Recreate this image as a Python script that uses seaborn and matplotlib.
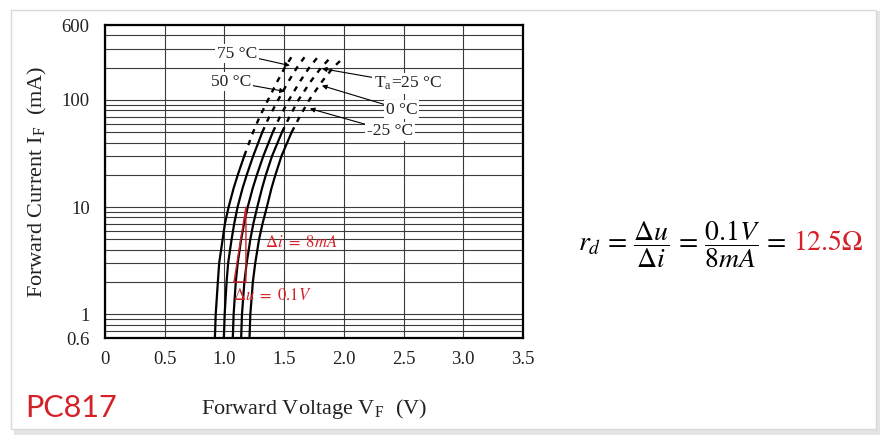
import numpy as np
import pandas as pd
import matplotlib
matplotlib.use("Agg")
import matplotlib.pyplot as plt
from matplotlib.patches import Rectangle
from matplotlib.ticker import LogLocator, NullFormatter
import seaborn as sns

# forward current (mA) at which the curve voltages were read
current_ma = [0.6, 1, 2, 3, 5, 7, 10, 15, 20, 30, 50, 70, 100, 150, 200, 250]

# forward voltage (V) for each ambient temperature
vf_75 = [0.92, 0.927, 0.945, 0.956, 0.985, 1.004, 1.035, 1.077, 1.112,
         1.166, 1.24, 1.296, 1.365, 1.445, 1.505, 1.56]
vf_50 = [0.995, 1.002, 1.018, 1.031, 1.06, 1.082, 1.11, 1.152, 1.187,
         1.241, 1.317, 1.376, 1.45, 1.538, 1.607, 1.67]
vf_25 = [1.07, 1.077, 1.095, 1.111, 1.14, 1.164, 1.195, 1.237, 1.272,
         1.326, 1.405, 1.466, 1.54, 1.635, 1.71, 1.78]
vf_0 = [1.14, 1.147, 1.167, 1.186, 1.217, 1.242, 1.275, 1.315, 1.347,
        1.399, 1.482, 1.546, 1.62, 1.725, 1.81, 1.89]
vf_m25 = [1.21, 1.217, 1.238, 1.258, 1.29, 1.319, 1.355, 1.394, 1.427,
          1.478, 1.563, 1.631, 1.71, 1.82, 1.91, 2.0]

temps = ["75", "50", "25", "0", "-25"]
# curves are solid up to this current, dashed above
solid_limit_ma = [30, 50, 50, 50, 50]

x_ticks = [0, 0.5, 1.0, 1.5, 2.0, 2.5, 3.0, 3.5]
x_tick_labels = ["0", "0.5", "1.0", "1.5", "2.0", "2.5", "3.0", "3.5"]
y_ticks = [0.6, 1, 10, 100, 500]
y_tick_labels = ["0.6", "1", "10", "100", "600"]

# slope triangle drawn along the 25 C curve
du_v = [1.08, 1.18]
di_ma = [2, 10]

RED = "#d42027"

sns.set_style("ticks")
plt.rcParams["font.family"] = ["Liberation Serif", "DejaVu Serif"]
plt.rcParams["mathtext.fontset"] = "stix"

fig = plt.figure(figsize=(8.87, 4.4), dpi=100)

# card frame with a soft shadow
fig.add_artist(Rectangle((14 / 887, 5 / 440), 866 / 887, 424 / 440,
                         transform=fig.transFigure, facecolor="#e4e4e4",
                         edgecolor="none", zorder=-3))
fig.add_artist(Rectangle((11 / 887, 11 / 440), 865 / 887, 419 / 440,
                         transform=fig.transFigure, facecolor="white",
                         edgecolor="#d8d8d8", lw=1.0, zorder=-2))

ax = fig.add_axes([105 / 887, 1 - 338 / 440, 418 / 887, 313 / 440])
ax.set_facecolor("none")
ax.set_yscale("log")

curves = [vf_75, vf_50, vf_25, vf_0, vf_m25]
for name, vf, lim in zip(temps, curves, solid_limit_ma):
    df = pd.DataFrame({"vf": vf, "if": current_ma})
    solid = df[df["if"] <= lim]
    dashed = df[df["if"] >= lim]
    sns.lineplot(data=solid, x="vf", y="if", sort=False, estimator=None,
                 color="black", lw=1.6, ax=ax)
    sns.lineplot(data=dashed, x="vf", y="if", sort=False, estimator=None,
                 color="black", lw=1.7, linestyle=(0, (2.3, 2.6)), ax=ax)

# red slope triangle
tri = pd.DataFrame({"vf": [du_v[0], du_v[1], du_v[1], du_v[0]],
                    "if": [di_ma[0], di_ma[0], di_ma[1], di_ma[0]]})
sns.lineplot(data=tri, x="vf", y="if", sort=False, estimator=None,
             color=RED, lw=1.0, ax=ax)

ax.set_xlim(0, 3.5)
ax.set_ylim(0.6, 500)
ax.set_xticks(x_ticks)
ax.set_xticklabels(x_tick_labels)
ax.set_yticks(y_ticks)
ax.set_yticklabels(y_tick_labels)
ax.yaxis.set_minor_locator(LogLocator(base=10, subs=np.arange(2, 10)))
ax.yaxis.set_minor_formatter(NullFormatter())
ax.tick_params(which="both", length=0, labelsize=13.5, colors="#222222")
ax.tick_params(axis="x", pad=9)
ax.tick_params(axis="y", pad=11)
ax.grid(which="major", color="#3a3a3a", lw=0.8)
ax.grid(which="minor", axis="y", color="#3a3a3a", lw=0.8)
for s in ax.spines.values():
    s.set_color("black")
    s.set_linewidth(1.6)

ax.set_xlabel(r"Forward Voltage V$_\mathregular{F}$  (V)", fontsize=16,
              color="#222222")
ax.xaxis.set_label_coords(0.5, -0.19)
ax.set_ylabel(r"Forward Current I$_\mathregular{F}$  (mA)", fontsize=16,
              color="#222222")
ax.yaxis.set_label_coords(-0.133, 0.5)

# temperature labels with leader arrows
box = dict(boxstyle="square,pad=0.1", fc="white", ec="none")
arrow = dict(arrowstyle="-|>", color="black", lw=0.8, mutation_scale=7,
             shrinkA=0, shrinkB=0)
labels = [("75 °C", (1.105, 270), (1.548, 209)),
          ("50 °C", (1.054, 148), (1.506, 120)),
          (r"T$_\mathregular{a}$=25 °C", (2.536, 142), (1.816, 196)),
          ("0 °C", (2.485, 81), (1.816, 136)),
          ("-25 °C", (2.385, 51), (1.715, 83))]
for txt, pos, tip in labels:
    ax.annotate(txt, xy=tip, xytext=pos, ha="center", va="center",
                fontsize=12.5, color="#222222", bbox=box, arrowprops=arrow)

ax.text(1.34, 4.6, r"$\Delta i\ =\ 8mA$", color=RED, fontsize=12,
        ha="left", va="center")
ax.text(1.07, 1.49, r"$\Delta u\ =\ 0.1V$", color=RED, fontsize=12,
        ha="left", va="center")

fig.text(25 / 887, 1 - 408 / 440, "PC817", color=RED, fontsize=22,
         family="Lato", ha="left", va="center")

formula = fig.text(578 / 887, 1 - 244 / 440,
                   r"$r_d\,=\,\dfrac{\Delta u}{\Delta i}\,=\,\dfrac{0.1V}{8mA}\,=$",
                   fontsize=20, color="black", ha="left", va="center")
# put the red result just after the last "=" sign
fig.canvas.draw()
bb = formula.get_window_extent()
fig.text((bb.x1 + 6) / 887, 1 - 243 / 440, r"$\mathrm{12.5\Omega}$",
         fontsize=20, color=RED, ha="left", va="center")

fig.savefig("out.png", dpi=100, facecolor="white")
